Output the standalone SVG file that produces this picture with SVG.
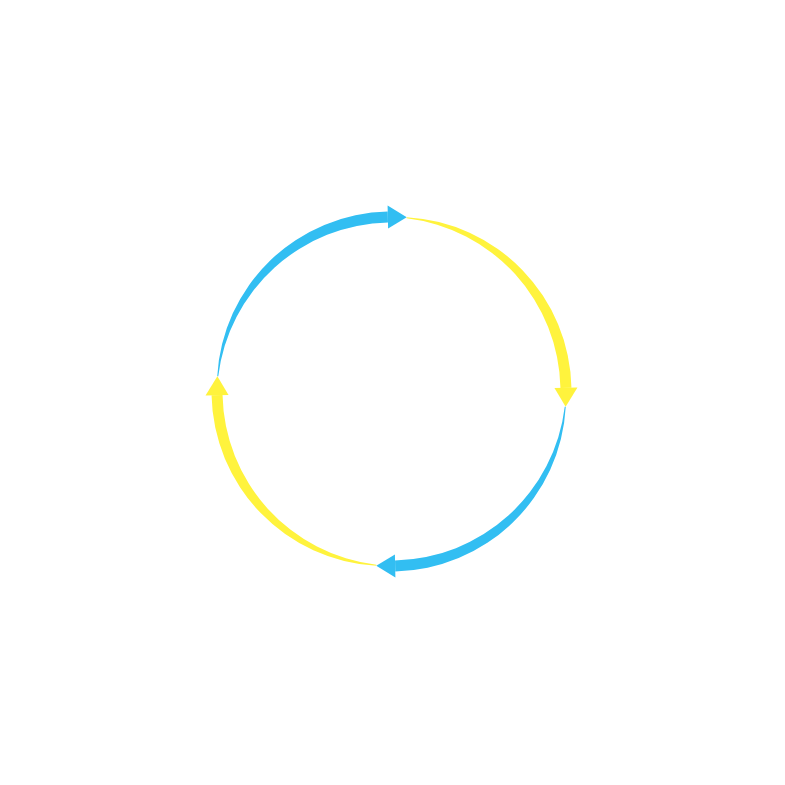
<svg xmlns="http://www.w3.org/2000/svg" xmlns:xlink="http://www.w3.org/1999/xlink" width="785" height="785" viewBox="0 0 785 785">
  <defs>
    <style>
      .blue { fill: #32BEF2; }
      .yellow { fill: #FFF33D; }
    </style>
    <g id="tapered-arrow">
      <path d="M174.911 0 A174.395 174.395 0 0 1 19.44 178.95 L18.252 168.011 A174.605 174.605 0 0 0 173.911 0 Z"/>
      <polygon points="20.088,184.912 0,174.8 17.604,162.046"/>
    </g>
  </defs>
  <rect width="785" height="785" fill="#FFFFFF"/>
  <g id="connectors">
    <use id="arrow-blue-top" xlink:href="#tapered-arrow" class="blue" transform="translate(391.5 391.5) rotate(185)"/>
    <use id="arrow-yellow-right" xlink:href="#tapered-arrow" class="yellow" transform="translate(391.5 391.5) rotate(275)"/>
    <use id="arrow-blue-bottom" xlink:href="#tapered-arrow" class="blue" transform="translate(391.5 391.5) rotate(5)"/>
    <use id="arrow-yellow-left" xlink:href="#tapered-arrow" class="yellow" transform="translate(391.5 391.5) rotate(95)"/>
  </g>
</svg>
